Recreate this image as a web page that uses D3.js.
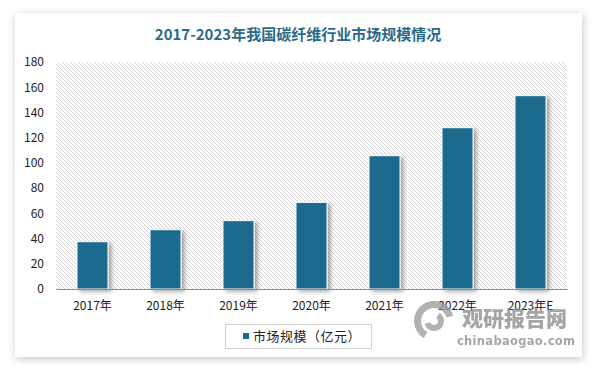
<!DOCTYPE html>
<html><head><meta charset="utf-8">
<script src="https://cdn.jsdelivr.net/npm/d3@7"></script>
<style>html,body{margin:0;padding:0;background:#fff;}svg{display:block;}</style>
</head><body>
<script>
const categories = ["2017年","2018年","2019年","2020年","2021年","2022年","2023年E"];
const values = [37.5, 47, 54.2, 68.7, 105.7, 127.9, 153.3];
const yTicks = [0,20,40,60,80,100,120,140,160,180];
const seriesName = "市场规模（亿元）";
const title = "2017-2023年我国碳纤维行业市场规模情况";

const W = 596, H = 371;
const svg = d3.select("body").append("svg").attr("width", W).attr("height", H);
const defs = svg.append("defs");
const sh = defs.append("filter").attr("id","card").attr("x","-10%").attr("y","-10%").attr("width","120%").attr("height","120%");
sh.append("feDropShadow").attr("dx",1).attr("dy",2).attr("stdDeviation",4).attr("flood-color","#000").attr("flood-opacity",0.22);
const bs = defs.append("filter").attr("id","barsh").attr("x","-30%").attr("y","-10%").attr("width","170%").attr("height","130%");
bs.append("feDropShadow").attr("dx",3).attr("dy",2).attr("stdDeviation",2).attr("flood-color","#000").attr("flood-opacity",0.35);
const pat = defs.append("pattern").attr("id","hatch").attr("patternUnits","userSpaceOnUse").attr("width",4).attr("height",4);
pat.append("rect").attr("width",4).attr("height",4).attr("fill","#fff");
pat.append("path").attr("d","M-1,-1 L5,5 M-1,3 L1,5 M3,-1 L5,1").attr("stroke","#cfcfcf").attr("stroke-width",0.9);

svg.append("rect").attr("x",15).attr("y",13).attr("width",567).attr("height",344).attr("fill","#fff").attr("filter","url(#card)");

svg.append("text").attr("x",298).attr("y",40).attr("text-anchor","middle")
  .attr("font-family","'Noto Sans CJK SC', sans-serif").attr("font-weight","bold").attr("font-size",15)
  .attr("fill","#2b6a88").text(title);

const x = d3.scaleBand().domain(categories).range([56,567]).paddingInner(0.575).paddingOuter(0.2875);
const y = d3.scaleLinear().domain([0,180]).range([289,62]);

svg.append("rect").attr("x",56).attr("y",y(180)).attr("width",511).attr("height",y(0)-y(180)).attr("fill","url(#hatch)");

svg.append("g").selectAll("rect").data(values).join("rect")
  .attr("x",(d,i)=>x(categories[i])).attr("y",d=>y(d))
  .attr("width",x.bandwidth()).attr("height",d=>y(0)-y(d))
  .attr("fill","#1e6a8d").attr("stroke","#fff").attr("stroke-width",1).attr("filter","url(#barsh)");

const yAxis = svg.append("g").attr("transform","translate(56,0)")
  .call(d3.axisLeft(y).tickValues(yTicks).tickSize(0).tickPadding(12));
yAxis.select(".domain").remove();
yAxis.selectAll("text").attr("font-family","'Noto Sans CJK SC', sans-serif").attr("font-size",12).attr("fill","#222");

const xAxis = svg.append("g").attr("transform","translate(0,289)")
  .call(d3.axisBottom(x).tickSize(0).tickPadding(12));
xAxis.select(".domain").attr("stroke","#8a8a8a").attr("stroke-width",1.2);
xAxis.selectAll("text").attr("font-family","'Noto Sans CJK SC', sans-serif").attr("font-size",12).attr("fill","#222");

// legend
const lg = svg.append("g");
lg.append("rect").attr("x",225.5).attr("y",324.5).attr("width",146).attr("height",24).attr("fill","#fff").attr("stroke","#d0d0d0");
lg.append("rect").attr("x",243).attr("y",333).attr("width",6).attr("height",6).attr("fill","#1e6a8d");
lg.append("text").attr("x",253).attr("y",341).attr("font-family","'Noto Sans CJK SC', sans-serif").attr("font-size",13)
  .attr("letter-spacing",0.5).attr("fill","#222").text(seriesName);

// watermark
const wm = svg.append("g").attr("opacity",0.75);
wm.append("path").attr("d",d3.arc()({innerRadius:13,outerRadius:20,startAngle:-2.6,endAngle:1.3})).attr("transform","translate(434,321)").attr("fill","#999");
wm.append("path").attr("d",d3.arc()({innerRadius:4,outerRadius:10,startAngle:0.6,endAngle:4.4})).attr("transform","translate(434,321)").attr("fill","#999");
wm.append("text").attr("x",462).attr("y",326).attr("font-family","'Noto Sans CJK SC', sans-serif").attr("font-weight","900")
  .attr("font-size",21).attr("fill","#888").text("观研报告网");
wm.append("text").attr("x",457).attr("y",345).attr("font-family","'DejaVu Sans', sans-serif").attr("font-weight","bold")
  .attr("font-size",11.5).attr("letter-spacing",0.3).attr("fill","#888").text("chinabaogao.com");
</script>
</body></html>
